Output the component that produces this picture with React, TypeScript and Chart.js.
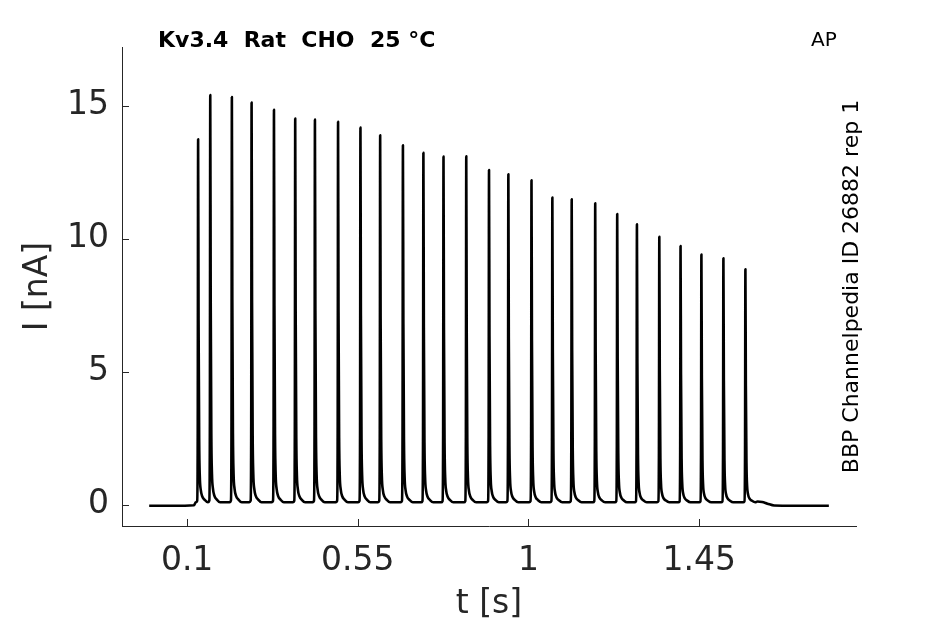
import { useEffect, useRef } from 'react'

import { Chart, registerables } from 'chart.js'

Chart.register(...registerables)

// spike peaks of the AP-clamp train (time in s, current in nA)
const spikeTimes = [
  0.129, 0.161, 0.218, 0.27, 0.329, 0.385, 0.437, 0.498, 0.557, 0.609, 0.669,
  0.723, 0.776, 0.836, 0.896, 0.947, 1.008, 1.063, 1.114, 1.176, 1.234, 1.286,
  1.345, 1.401, 1.456, 1.514, 1.572,
]
const spikePeaks = [
  13.73, 15.39, 15.32, 15.11, 14.84, 14.51, 14.47, 14.39, 14.17, 13.88, 13.51,
  13.22, 13.08, 13.09, 12.58, 12.42, 12.19, 11.54, 11.48, 11.33, 10.92, 10.54,
  10.07, 9.72, 9.4, 9.26, 8.85,
]

// shape of one spike: time from the peak (s) and fraction of the peak height
const shapeOffsets = [-0.006, -0.0025, -0.001, 0, 0.0012, 0.0028, 0.0045, 0.007, 0.011, 0.017, 0.026]
const shapeFractions = [0, 0.004, 0.2, 1, 0.5, 0.17, 0.07, 0.034, 0.016, 0.007, 0]

const trainBaseline = 0.09

// holding current before and after the train
const preTimes = [0, 0.06, 0.118]
const preValues = [-0.04, -0.04, -0.02]
const postTimes = [1.604, 1.616, 1.63, 1.648, 1.7, 1.792]
const postValues = [0.12, 0.1, 0.04, -0.03, -0.04, -0.04]

const xTicks = [0.1, 0.55, 1, 1.45]
const yTicks = [0, 5, 10, 15]

const titleText = 'Kv3.4  Rat  CHO  25 °C'
const cornerText = 'AP'
const sideText = 'BBP Channelpedia ID 26882 rep 1'

const axisColor = '#262626'
const fontFamily = '"DejaVu Sans", sans-serif'

function buildTrace() {
  const points: { x: number; y: number }[] = []
  preTimes.forEach((t, i) => points.push({ x: t, y: preValues[i] }))
  spikeTimes.forEach((t, i) => {
    shapeOffsets.forEach((dt, j) => {
      points.push({
        x: t + dt,
        y: trainBaseline + shapeFractions[j] * (spikePeaks[i] - trainBaseline),
      })
    })
  })
  postTimes.forEach((t, i) => points.push({ x: t, y: postValues[i] }))
  return points
}

// inward tick marks and the free texts round the axes
const decorations = {
  id: 'decorations',
  afterDraw(chart: any) {
    const { ctx, chartArea, scales } = chart
    ctx.save()
    ctx.strokeStyle = axisColor
    ctx.lineWidth = 1
    scales.x.ticks.forEach((t: any) => {
      const px = Math.round(scales.x.getPixelForValue(t.value)) + 0.5
      ctx.beginPath()
      ctx.moveTo(px, chartArea.bottom)
      ctx.lineTo(px, chartArea.bottom - 7)
      ctx.stroke()
    })
    scales.y.ticks.forEach((t: any) => {
      const py = Math.round(scales.y.getPixelForValue(t.value)) + 0.5
      ctx.beginPath()
      ctx.moveTo(chartArea.left, py)
      ctx.lineTo(chartArea.left + 7, py)
      ctx.stroke()
    })

    ctx.fillStyle = '#000'
    ctx.textBaseline = 'alphabetic'
    ctx.textAlign = 'left'
    ctx.font = `bold 22px ${fontFamily}`
    ctx.fillText(titleText, chartArea.left + 36, chartArea.top)
    ctx.font = `20px ${fontFamily}`
    ctx.fillText(cornerText, chartArea.right - 45, chartArea.top - 1)

    ctx.translate(chartArea.right + 2, (chartArea.top + chartArea.bottom) / 2)
    ctx.rotate(-Math.PI / 2)
    ctx.textAlign = 'center'
    ctx.font = `22px ${fontFamily}`
    ctx.fillText(sideText, 0, 0)
    ctx.restore()
  },
}

export default function App() {
  const chartRef = useRef<HTMLCanvasElement>(null)

  useEffect(() => {
    document.body.style.margin = '0'
    if (!chartRef.current) return

    const config = {
      type: 'line',
      data: {
        datasets: [
          {
            data: buildTrace(),
            borderColor: '#000',
            borderWidth: 2.6,
            borderJoinStyle: 'round',
            pointRadius: 0,
            cubicInterpolationMode: 'monotone',
          },
        ],
      },
      options: {
        animation: false,
        responsive: true,
        maintainAspectRatio: false,
        layout: { padding: { left: 0, right: 89, top: 47, bottom: 0 } },
        plugins: {
          legend: { display: false },
          tooltip: { enabled: false },
        },
        scales: {
          x: {
            type: 'linear',
            min: -0.0717,
            max: 1.8636,
            afterFit: (scale: any) => {
              scale.height = 98
            },
            afterBuildTicks: (scale: any) => {
              scale.ticks = xTicks.map((v) => ({ value: v }))
            },
            grid: { display: false, drawTicks: false },
            border: { display: true, color: axisColor, width: 1 },
            ticks: {
              padding: 16,
              color: axisColor,
              font: { family: fontFamily, size: 33 },
              callback: (v: number) => String(v),
            },
            title: {
              display: true,
              text: 't [s]',
              color: axisColor,
              font: { family: fontFamily, size: 33 },
              padding: { top: 0, bottom: 0 },
            },
          },
          y: {
            type: 'linear',
            min: -0.8,
            max: 17.2,
            afterFit: (scale: any) => {
              scale.width = 122
            },
            afterBuildTicks: (scale: any) => {
              scale.ticks = yTicks.map((v) => ({ value: v }))
            },
            grid: { display: false, drawTicks: false },
            border: { display: true, color: axisColor, width: 1 },
            ticks: {
              padding: 13,
              color: axisColor,
              font: { family: fontFamily, size: 33 },
              callback: (v: number) => String(v),
            },
            title: {
              display: true,
              text: 'I [nA]',
              color: axisColor,
              font: { family: fontFamily, size: 33 },
              padding: { top: 19, bottom: 0 },
            },
          },
        },
      },
      plugins: [decorations],
    }

    const chart = new Chart(chartRef.current, config as any)
    return () => {
      chart.destroy()
    }
  }, [])

  return (
    <div style={{ position: 'relative', width: 945, height: 624 }}>
      <canvas ref={chartRef} />
    </div>
  )
}
